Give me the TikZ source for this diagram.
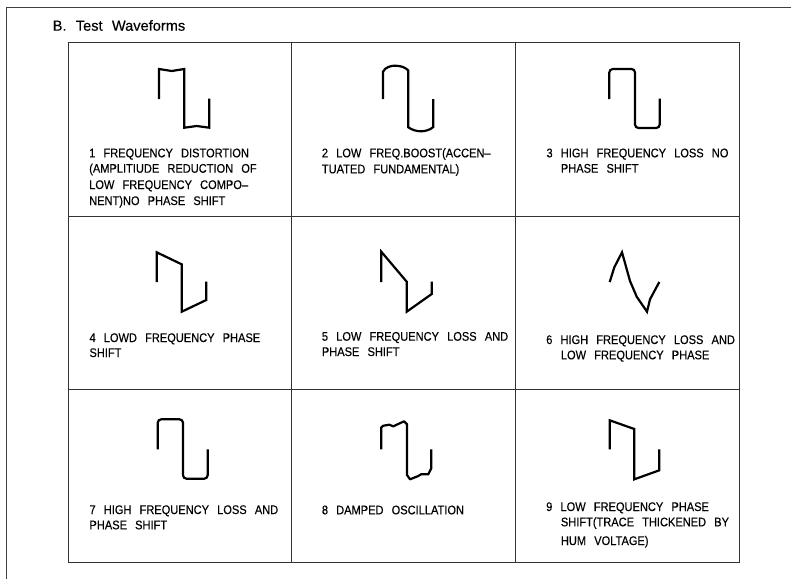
\documentclass[tikz,border=0pt]{standalone}
\usepackage{fontspec}
\setmainfont[FakeStretch=0.885,WordSpace=2.65,FakeBold=0.35]{Liberation Sans}
\newfontfamily\ttlfont[FakeStretch=1.0,WordSpace=2.3,FakeBold=0.3]{Liberation Sans}
\tikzset{
  frameline/.style={line width=0.9pt,draw=black!75},
  gridline/.style={line width=0.9pt,draw=black!80},
  wave/.style={line width=2.2pt,draw=black,line join=miter,miter limit=4},
  roundwave/.style={wave,rounded corners=3.5pt},
  lab/.style={anchor=base west,inner sep=0pt,font=\fontsize{12.5}{14}\selectfont,text=black},
  ttl/.style={anchor=base west,inner sep=0pt,font=\ttlfont\fontsize{14.6}{16}\selectfont,text=black}
}
\newcommand{\lbl}[4]{\node[lab] (#1) at (#2,#3) {#4};}
\begin{document}
\begin{tikzpicture}[x=1pt,y=-1pt]
\useasboundingbox (0,0) rectangle (791,579);
% outer frame
\draw[frameline] (6.5,579) -- (6.5,7) -- (791,7);
\node[ttl] (title) at (52.5,30.7) {B. Test Waveforms};
% table
\draw[gridline] (68,42.5) rectangle (739.3,562.3);
\draw[gridline] (291.8,42.5) -- (291.8,562.3);
\draw[gridline] (515.7,42.5) -- (515.7,562.3);
\draw[gridline] (68,216) -- (739.3,216);
\draw[gridline] (68,389) -- (739.3,389);
% waveforms
\draw[wave] (159,99) -- (159,69) -- (171.7,71) -- (184.3,69) -- (184.3,127.7) -- (196.7,126) -- (209.3,127.7) -- (209.3,98.7);
\draw[wave] (383,99) -- (383,71.7) .. controls (385,67) and (392,65.5) .. (395,65.7) .. controls (400,65.7) and (405,67) .. (408.3,70.5) -- (408.3,127.3) .. controls (412,130) and (417,131.3) .. (420.7,131.3) .. controls (425,131.3) and (430,130) .. (433.3,127) -- (433.3,99);
\draw[roundwave] (609.3,99) -- (609.3,69) -- (635,69) -- (635,128) -- (659.7,128) -- (659.7,98.7);
\draw[wave] (156.7,282) -- (156.7,252.3) -- (181.7,264.3) -- (181.7,311.7) -- (206.3,300) -- (206.3,281.7);
\draw[wave] (381.3,282) -- (381.3,251.7) -- (406.7,281.7) -- (406.7,311.7) -- (431.7,294) -- (431.7,281.7);
\draw[wave] (609.7,282) -- (614.3,267.3) -- (622,252.3) -- (630,281) -- (636.7,296.7) -- (647,311.7) -- (650,299.3) -- (659.3,282);
\draw[roundwave] (157.7,449.3) -- (157.7,419.3) -- (183,419.3) -- (183,478.7) -- (207.7,478.7) -- (207.7,449.3);
\draw[wave,line join=round] (381.3,449.3) -- (381.3,427.3) -- (383.3,425.7) -- (389.3,424.7) -- (393.3,426.3) -- (404,421.3) -- (407,424.3) -- (407,475) -- (410,479.3) -- (418.3,476) -- (421,474.3) -- (428.3,474.3) -- (431.3,468.3) -- (431.3,449.3);
\draw[wave] (609.7,449.3) -- (609.7,420.3) -- (634.3,429) -- (634.3,479.3) -- (659.3,470.3) -- (659.3,449.3);
% labels
\lbl{a1}{89}{157.3}{1 FREQUENCY DISTORTION}
\lbl{a2}{89}{172.7}{(AMPLITIUDE REDUCTION OF}
\lbl{a3}{89}{189}{LOW FREQUENCY COMPO--}
\lbl{a4}{89}{205}{NENT)NO PHASE SHIFT}
\lbl{b1}{321.7}{157.3}{2 LOW FREQ.BOOST(ACCEN--}
\lbl{b2}{321.7}{173.3}{TUATED FUNDAMENTAL)}
\lbl{c1}{546.3}{157.3}{3 HIGH FREQUENCY LOSS NO}
\lbl{c2}{560.7}{172.7}{PHASE SHIFT}
\lbl{d1}{89.3}{342}{4 LOWD FREQUENCY PHASE}
\lbl{d2}{89.3}{357}{SHIFT}
\lbl{e1}{321.7}{340.7}{5 LOW FREQUENCY LOSS AND}
\lbl{e2}{321.7}{356}{PHASE SHIFT}
\lbl{f1}{546}{344}{6 HIGH FREQUENCY LOSS AND}
\lbl{f2}{560.7}{359.3}{LOW FREQUENCY PHASE}
\lbl{g1}{89.3}{514}{7 HIGH FREQUENCY LOSS AND}
\lbl{g2}{89.3}{529.3}{PHASE SHIFT}
\lbl{h1}{321.7}{514.3}{8 DAMPED OSCILLATION}
\lbl{i1}{546}{511}{9 LOW FREQUENCY PHASE}
\lbl{i2}{560.7}{526.3}{SHIFT(TRACE THICKENED BY}
\lbl{i3}{560.7}{545}{HUM VOLTAGE)}
\end{tikzpicture}
\end{document}
